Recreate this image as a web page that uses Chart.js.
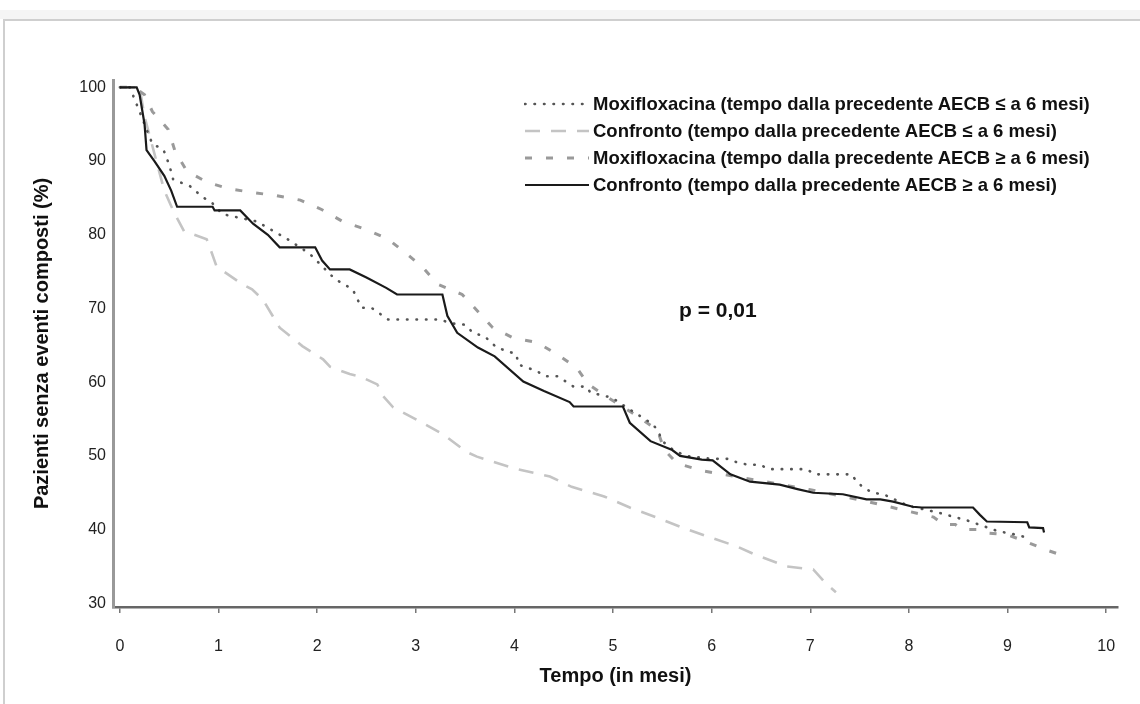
<!DOCTYPE html>
<html lang="it">
<head>
  <meta charset="UTF-8" />
  <title>Pazienti senza eventi composti</title>
  <script src="https://cdn.jsdelivr.net/npm/chart.js"></script>
  <style>
    html, body { margin: 0; padding: 0; background: #fff; }
    body { width: 1140px; height: 704px; position: relative; overflow: hidden;
           font-family: "Liberation Sans", Arial, sans-serif; color: #111; }
    .band { position: absolute; left: 0; top: 10px; right: 0; height: 9px; background: #f5f5f5; }
    .frame { position: absolute; left: 3px; top: 19px; right: 0; bottom: 0;
             border-top: 2px solid #cfcfcf; border-left: 2px solid #cfcfcf; }
    #chart { position: absolute; left: 0; top: 0; }
    .legend { position: absolute; left: 524px; top: 90px; font-weight: bold; font-size: 18.5px; }
    .legend .row { height: 27px; display: flex; align-items: center; white-space: nowrap; }
    .legend svg { width: 66px; height: 10px; margin-right: 3px; }
    .pval { position: absolute; left: 679px; top: 298px; font-weight: bold; font-size: 21px; }
  </style>
</head>
<body>
  <div class="band"></div>
  <div class="frame"></div>
  <canvas id="chart" width="1140" height="704"></canvas>
  <div class="legend" id="legend"></div>
  <div class="pval">p = 0,01</div>

  <script>
    // tick labels
    const xTicks = [0, 1, 2, 3, 4, 5, 6, 7, 8, 9, 10];
    const yTicks = [30, 40, 50, 60, 70, 80, 90, 100];

    // Moxifloxacina, tempo <= 6 mesi (punteggiata)
    const moxiShortT = [0, 0.1, 0.2, 0.33, 0.44, 0.5, 0.54, 0.71, 0.84, 0.93, 1.04, 1.39, 1.7, 1.86, 1.95, 2.06, 2.18, 2.36, 2.45, 2.55, 2.72, 3.25, 3.35, 3.5, 3.58, 3.7, 3.82, 4.02, 4.04, 4.23, 4.31, 4.44, 4.6, 4.73, 4.77, 4.99, 5.17, 5.38, 5.45, 5.5, 5.61, 5.74, 6.0, 6.17, 6.26, 6.37, 6.49, 6.58, 6.96, 7.05, 7.42, 7.47, 7.54, 7.63, 7.74, 8.0, 8.3, 8.6, 8.9, 9.09, 9.2];
    const moxiShortS = [100, 100, 96.7, 92.3, 91.6, 89.5, 87.5, 86.6, 85.1, 84.4, 82.8, 81.8, 79.4, 78.0, 77.1, 75.6, 74.0, 72.6, 70.1, 70.1, 68.5, 68.5, 68.0, 67.8, 66.7, 66.2, 64.7, 63.8, 62.4, 61.5, 60.8, 60.8, 59.4, 59.4, 58.6, 57.9, 56.3, 54.5, 53.6, 52.0, 50.8, 50.0, 49.6, 49.6, 49.1, 48.8, 48.8, 48.2, 48.2, 47.5, 47.5, 46.5, 45.7, 45.0, 44.8, 43.2, 42.3, 41.2, 39.8, 39.3, 38.9];

    // Confronto, tempo <= 6 mesi (tratteggio chiaro)
    const confShortT = [0, 0.2, 0.25, 0.35, 0.45, 0.55, 0.65, 0.88, 0.93, 0.98, 1.24, 1.34, 1.45, 1.62, 1.85, 2.06, 2.13, 2.33, 2.43, 2.61, 2.67, 2.77, 3.04, 3.28, 3.52, 3.62, 4.0, 4.36, 4.58, 4.91, 5.17, 5.45, 5.68, 5.95, 6.26, 6.44, 6.76, 7.03, 7.15, 7.26];
    const confShortS = [100, 100, 96, 91, 86, 83, 80.5, 79.4, 77.6, 75.7, 73.3, 72.6, 71.2, 67.4, 64.9, 63.1, 62.1, 61.1, 60.8, 59.7, 58.1, 56.6, 54.7, 52.9, 50.5, 49.9, 48.3, 47.2, 45.8, 44.5, 43.0, 41.6, 40.4, 39.1, 37.7, 36.6, 35.0, 34.6, 32.8, 31.5];

    // Moxifloxacina, tempo >= 6 mesi (tratteggio medio)
    const moxiLongT = [0, 0.15, 0.25, 0.33, 0.49, 0.56, 0.68, 0.89, 1.12, 1.37, 1.59, 1.83, 2.05, 2.26, 2.48, 2.71, 2.89, 3.07, 3.22, 3.47, 3.63, 3.78, 3.99, 4.23, 4.43, 4.63, 4.75, 4.95, 5.2, 5.45, 5.52, 5.65, 5.9, 6.2, 6.5, 7.0, 7.55, 7.99, 8.25, 8.35, 8.47, 8.54, 8.69, 8.75, 9.0, 9.18, 9.38, 9.62];
    const moxiLongS = [100, 100, 99, 96.7, 94.3, 91.3, 88.6, 87.1, 86.2, 85.7, 85.3, 84.7, 83.4, 81.8, 80.8, 79.5, 77.6, 75.6, 73.3, 71.9, 69.6, 67.4, 66.0, 65.4, 63.8, 62.0, 59.7, 57.9, 55.8, 53.5, 50.8, 49.0, 48.0, 47.3, 46.6, 45.4, 43.9, 42.5, 41.7, 40.7, 40.7, 40.0, 40.0, 39.6, 39.3, 38.4, 37.3, 36.2];

    // Confronto, tempo >= 6 mesi (linea continua)
    const confLongT = [0, 0.17, 0.2, 0.25, 0.27, 0.35, 0.45, 0.52, 0.58, 0.94, 0.96, 1.22, 1.35, 1.5, 1.62, 1.98, 2.05, 2.13, 2.33, 2.5, 2.7, 2.81, 3.27, 3.32, 3.42, 3.63, 3.8, 4.09, 4.3, 4.56, 4.6, 5.1, 5.17, 5.38, 5.6, 5.68, 5.9, 6.01, 6.19, 6.39, 6.69, 6.87, 7.03, 7.33, 7.57, 7.71, 7.84, 8.04, 8.13, 8.65, 8.72, 8.79, 9.2, 9.22, 9.36, 9.37];
    const confLongS = [100, 100, 99, 95, 91.5, 90, 88, 86, 83.8, 83.8, 83.3, 83.3, 81.5, 80, 78.3, 78.3, 76.5, 75.3, 75.3, 74.2, 72.8, 71.9, 71.9, 69, 66.7, 64.7, 63.5, 60.1, 58.8, 57.3, 56.7, 56.7, 54.5, 52.0, 50.8, 50.0, 49.5, 49.4, 47.5, 46.5, 46.1, 45.5, 45.0, 44.8, 44.1, 44.1, 43.8, 43.1, 43.0, 43.0, 42.0, 41.1, 41.0, 40.3, 40.2, 39.6];

    const series = [
      { label: 'Moxifloxacina (tempo dalla precedente AECB \u2264 a 6 mesi)', t: moxiShortT, s: moxiShortS,
        color: '#555', width: 2.6, dash: [0.5, 9], cap: 'round', order: 2 },
      { label: 'Confronto (tempo dalla precedente AECB \u2264 a 6 mesi)', t: confShortT, s: confShortS,
        color: '#c4c4c4', width: 2.6, dash: [15, 11], cap: 'butt', order: 4 },
      { label: 'Moxifloxacina (tempo dalla precedente AECB \u2265 a 6 mesi)', t: moxiLongT, s: moxiLongS,
        color: '#9a9a9a', width: 3, dash: [7, 14], cap: 'butt', order: 3 },
      { label: 'Confronto (tempo dalla precedente AECB \u2265 a 6 mesi)', t: confLongT, s: confLongS,
        color: '#1a1a1a', width: 2.2, dash: [], cap: 'butt', order: 1 }
    ];

    Chart.defaults.font.family = "'Liberation Sans', Arial, sans-serif";
    Chart.defaults.color = '#222';

    const datasets = series.map(d => ({
      label: d.label,
      data: d.t.map((t, i) => ({ x: t, y: d.s[i] })),
      borderColor: d.color,
      borderWidth: d.width,
      borderDash: d.dash,
      borderCapStyle: d.cap,
      pointRadius: 0,
      fill: false,
      tension: 0,
      order: d.order
    }));

    new Chart(document.getElementById('chart'), {
      type: 'line',
      data: { datasets },
      options: {
        responsive: false,
        animation: false,
        layout: { padding: { left: 10, right: 22, top: 80, bottom: 0 } },
        plugins: { legend: { display: false }, tooltip: { enabled: false } },
        scales: {
          x: {
            type: 'linear',
            min: -0.07,
            max: 10.12,
            afterBuildTicks: s => { s.ticks = xTicks.map(v => ({ value: v })); },
            afterFit: s => { s.height = 97; },
            grid: { drawOnChartArea: false, drawTicks: true, tickLength: 6, color: '#777', lineWidth: 1.5 },
            border: { color: '#666', width: 2.5 },
            ticks: { padding: 24, font: { size: 16 }, color: '#222' },
            title: { display: true, text: 'Tempo (in mesi)', font: { size: 20, weight: 'bold' }, color: '#111',
                     padding: { top: 0, bottom: 16 } }
          },
          y: {
            min: 29.5,
            max: 101,
            afterBuildTicks: s => { s.ticks = yTicks.map(v => ({ value: v })); },
            afterFit: s => { s.width = 103; },
            grid: { drawOnChartArea: false, drawTicks: false },
            border: { color: '#999', width: 3 },
            ticks: { padding: 7, font: { size: 16 }, color: '#222' },
            title: { display: true, text: 'Pazienti senza eventi composti (%)', font: { size: 20, weight: 'bold' },
                     color: '#111', padding: { top: 20, bottom: 0 } }
          }
        }
      }
    });

    // legenda in HTML, stessi stili delle linee
    const legend = document.getElementById('legend');
    series.forEach(d => {
      const row = document.createElement('div');
      row.className = 'row';
      row.innerHTML =
        '<svg viewBox="0 0 66 10"><line x1="1" y1="5" x2="65" y2="5" stroke="' + d.color +
        '" stroke-width="' + d.width + '" stroke-linecap="' + d.cap + '" stroke-dasharray="' +
        (d.dash.length ? d.dash.join(' ') : 'none') + '"/></svg><span></span>';
      row.querySelector('span').textContent = d.label;
      legend.appendChild(row);
    });
  </script>
</body>
</html>
